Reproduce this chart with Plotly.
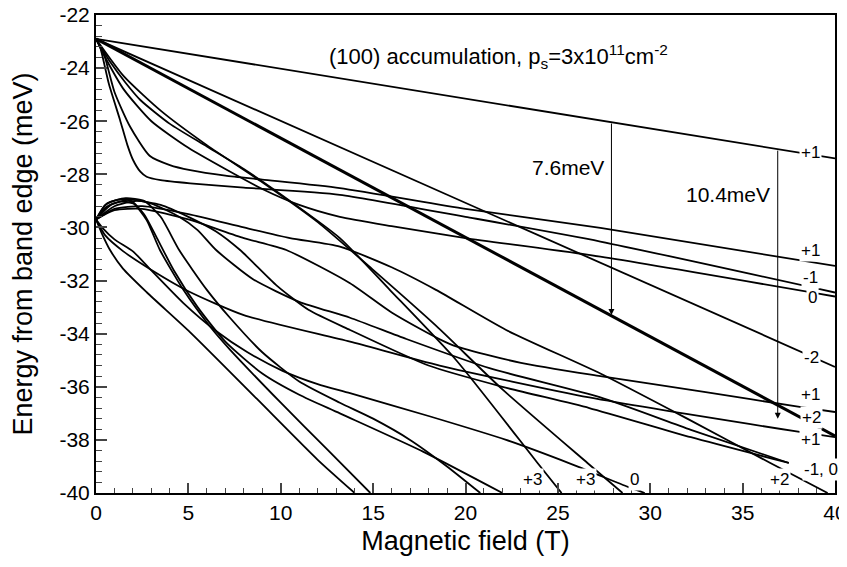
import plotly.graph_objects as go

# ---- data (B in tesla, E in meV) ----
# upper group (starts at -22.9 meV)
B_T1 = [0, 40]
E_T1 = [-22.9, -27.4]
B_T2 = [0, 40]
E_T2 = [-22.9, -35.25]
B_T3 = [0, 40]
E_T3 = [-22.9, -37.85]
B_T4 = [0, 0.4, 1.0, 1.84, 2.9, 4.0, 5.1, 7, 9, 13.2, 20, 27.3, 40]
E_T4 = [-22.9, -23.4, -24.9, -26.2, -27.3, -27.65, -27.84, -28.05, -28.2, -28.52, -29.3, -30.02, -31.45]
B_T5 = [0, 0.22, 0.7, 1.3, 1.7, 2.0, 2.4, 2.74, 3.5, 5.1, 8, 13.2, 20, 27.3, 40]
E_T5 = [-22.9, -23.2, -24.6, -25.95, -26.9, -27.45, -27.9, -28.09, -28.22, -28.34, -28.5, -28.77, -29.6, -30.53, -32.45]
B_T6 = [0, 0.5, 1.5, 3, 5, 7, 9, 11, 13.2, 16, 20, 27.3, 40]
E_T6 = [-22.9, -23.6, -24.8, -26.0, -27.0, -27.8, -28.55, -29.15, -29.6, -29.95, -30.4, -31.1, -32.6]
B_T7 = [0, 0.8, 1.6, 2.4, 4, 6, 8, 10.5, 13.2, 15.9, 19.5, 23.9, 25.2]
E_T7 = [-22.9, -23.8, -24.55, -25.2, -26.1, -26.95, -27.8, -29.0, -30.4, -32.35, -35.0, -38.87, -40]
B_T8 = [0, 1.5, 3.5, 6, 9, 12, 15, 18.4, 22, 26.6, 28.5]
E_T8 = [-22.9, -24.3, -25.6, -26.9, -28.3, -29.8, -31.6, -33.7, -36.1, -38.87, -40]

# lower group (starts at -29.7 meV)
B_LA = [0, 0.3, 0.76, 1.46, 2.76, 5.1, 8.7, 12, 14.0]
E_LA = [-29.7, -30.2, -30.85, -31.55, -32.45, -33.95, -36.45, -38.75, -40]
B_LB = [0, 0.58, 1.3, 2.02, 2.74, 3.46, 4.73, 6.17, 7.25, 10, 12.5, 14.85]
E_LB = [-29.7, -29.22, -29.03, -29.1, -29.72, -30.85, -32.35, -33.73, -34.6, -36.6, -38.35, -40]
B_LC = [0, 0.5, 1.48, 3, 5, 8, 13.75, 18.6, 26.7, 38, 40]
E_LC = [-29.7, -30.3, -30.9, -31.6, -32.4, -33.3, -34.3, -35.2, -36.4, -37.69, -37.9]
B_LD = [0, 0.4, 1.0, 2.0, 2.9, 4.73, 6.5, 8.2, 10.1, 12, 13.75, 18, 22.2, 25.7, 28.8, 29.7]
E_LD = [-29.7, -30.05, -30.45, -30.9, -31.55, -32.85, -33.9, -34.7, -35.4, -35.9, -36.24, -37.1, -38.0, -38.9, -39.77, -40]
B_U2 = [0, 0.6, 1.6, 2.6, 3.5, 4.5, 6, 7.25, 9, 11, 13.2, 15, 17, 19, 20.8]
E_U2 = [-29.7, -29.1, -28.9, -29.0, -29.6, -30.85, -32.35, -33.4, -34.7, -35.8, -36.6, -37.2, -38.0, -39.0, -40]
B_U3 = [0, 0.5, 1.2, 1.9, 2.6, 3.3, 4.2, 5.5, 7, 9, 11, 13.2, 17.7, 22.0]
E_U3 = [-29.7, -29.15, -28.95, -29.0, -29.5, -30.4, -31.6, -33.0, -34.3, -35.5, -36.3, -37.0, -38.44, -40]
B_U4 = [0, 1, 2.5, 5, 8, 10.5, 13.2, 16, 18.4, 22.2, 27.3, 32, 36.5, 39.6]
E_U4 = [-29.7, -29.3, -29.2, -29.5, -30.0, -30.4, -30.72, -31.5, -32.35, -33.86, -35.5, -37.2, -38.87, -40]
B_U5 = [0, 0.8, 1.8, 3, 4.5, 5.5, 6.5, 8.5, 11, 13.75, 16.8, 21.3, 27.3, 32.2, 37.5]
E_U5 = [-29.7, -29.15, -28.95, -29.1, -29.6, -30.1, -30.85, -31.95, -32.8, -33.4, -34.2, -35.3, -36.4, -37.62, -38.87]
B_U6 = [0, 1, 2.2, 3.5, 5, 6.5, 7.8, 9.8, 11.5, 13.75, 18, 22, 26.7, 32.2, 37.5]
E_U6 = [-29.7, -29.2, -29.0, -29.15, -29.6, -30.15, -30.85, -32.2, -33.1, -33.86, -35.2, -36.0, -36.8, -37.9, -38.87]
B_P1 = [0, 1, 2.5, 5, 8, 10.3, 13.75, 16, 19.2, 23, 27.3, 33, 38, 40]
E_P1 = [-29.7, -29.35, -29.3, -29.7, -30.4, -30.85, -32.1, -33.2, -34.4, -35.1, -35.6, -36.2, -36.75, -36.95]

# labels at curve ends
lab_B = [38.65, 38.65, 38.65, 38.8, 38.75, 38.65, 38.75, 38.65, 39.25, 37.0, 23.65, 26.5, 29.17]
lab_E = [-27.16, -30.85, -31.9, -32.62, -34.88, -36.3, -37.17, -38.0, -39.13, -39.5, -39.5, -39.5, -39.5]
lab_T = ["+1", "+1", "-1", "0", "-2", "+1", "+2", "+1", "-1, 0", "+2", "+3", "+3", "0"]

arrow_B = [27.9, 36.9]
arrow_top = [-26.03, -27.05]
arrow_tip = [-33.3, -37.2]
arrow_txt = ["7.6meV", "10.4meV"]

y_ticks = [-40, -38, -36, -34, -32, -30, -28, -26, -24, -22]
y_tick_text = ["-40", "-38", "-36", "-34", "-32", "-30", "-28", "-26", "-24", "-22"]
x_ticks = [0, 5, 10, 15, 20, 25, 30, 35, 40]

curves = [
    (B_T1, E_T1, 1.8), (B_T2, E_T2, 1.8), (B_T3, E_T3, 3.0),
    (B_T4, E_T4, 1.8), (B_T5, E_T5, 1.8), (B_T6, E_T6, 1.8),
    (B_T7, E_T7, 1.8), (B_T8, E_T8, 1.8),
    (B_LA, E_LA, 1.8), (B_LB, E_LB, 1.8), (B_LC, E_LC, 1.8), (B_LD, E_LD, 1.8),
    (B_U2, E_U2, 1.8), (B_U3, E_U3, 1.8), (B_U4, E_U4, 1.8),
    (B_U5, E_U5, 1.8), (B_U6, E_U6, 1.8), (B_P1, E_P1, 1.8),
]

fig = go.Figure()
for bx, ey, w in curves:
    fig.add_trace(go.Scatter(x=bx, y=ey, mode="lines",
                             line=dict(color="black", width=w, shape="spline", smoothing=0.6),
                             showlegend=False, hoverinfo="skip"))

FONT = "Liberation Sans, Arial, sans-serif"

for b, e, t in zip(lab_B, lab_E, lab_T):
    fig.add_annotation(x=b, y=e, text=t, showarrow=False, xref="x", yref="y",
                       font=dict(family=FONT, size=17, color="black"),
                       bgcolor="white", borderpad=1)

for b, e0, e1, t in zip(arrow_B, arrow_top, arrow_tip, arrow_txt):
    fig.add_annotation(x=b, y=e1, ax=b, ay=e0, xref="x", yref="y", axref="x", ayref="y",
                       text="", showarrow=True, arrowhead=2, arrowsize=1.2,
                       arrowwidth=1, arrowcolor="black")
    fig.add_annotation(x=b - 0.3, y=e0 - 1.7, text=t, showarrow=False, xanchor="right",
                       xref="x", yref="y", font=dict(family=FONT, size=21, color="black"))

fig.add_annotation(x=21.8, xref="x", y=-23.58, yref="y", xanchor="center",
                   text="(100) accumulation, p<sub>s</sub>=3x10<sup>11</sup>cm<sup>-2</sup>",
                   showarrow=False, font=dict(family=FONT, size=22, color="black"))

# page body adds an 8 px margin, so the figure is sized to fit the 847x567 window
fig.update_layout(
    width=839, height=559,
    margin=dict(l=88, r=12, t=7, b=74),
    paper_bgcolor="white", plot_bgcolor="white",
    font=dict(family=FONT, color="black"),
    xaxis=dict(range=[0, 40], tickvals=x_ticks, ticks="inside", ticklen=10, tickwidth=1.5,
               minor=dict(dtick=1, ticks="inside", ticklen=5, tickwidth=1.2),
               showline=True, linecolor="black", linewidth=2, mirror=True,
               showgrid=False, zeroline=False, automargin=False,
               ticklabeloverflow="allow",
               tickfont=dict(size=21, family=FONT),
               title=dict(text="Magnetic field (T)", font=dict(size=27, family=FONT), standoff=8)),
    yaxis=dict(range=[-40, -22], tickvals=y_ticks, ticktext=y_tick_text,
               ticks="inside", ticklen=11, tickwidth=1.5,
               minor=dict(dtick=0.4, ticks="inside", ticklen=6, tickwidth=1.2),
               showline=True, linecolor="black", linewidth=2, mirror=True,
               showgrid=False, zeroline=False, automargin=False,
               ticklabeloverflow="allow",
               tickfont=dict(size=21, family=FONT),
               title=dict(text="Energy from band edge (meV)", font=dict(size=27, family=FONT), standoff=20)),
)

fig.write_html("out.html")
